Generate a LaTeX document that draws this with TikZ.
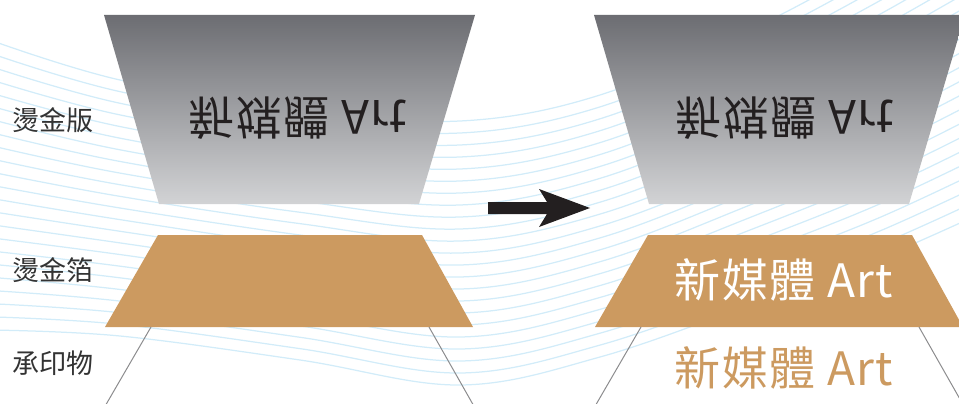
\documentclass[tikz,border=0pt]{standalone}
\usepackage{fontspec}
\usepackage{graphicx}
\newfontfamily\cjk{Noto Sans CJK TC}
\newfontfamily\cjkwide[LetterSpace=3]{Noto Sans CJK TC}
\definecolor{gold}{RGB}{204,154,96}
\definecolor{wave}{RGB}{210,236,249}
\definecolor{plateTop}{RGB}{108,109,114}
\definecolor{plateBot}{RGB}{210,211,213}
\definecolor{ink}{RGB}{35,31,32}
\definecolor{labelc}{RGB}{51,51,51}
\definecolor{subc}{RGB}{140,140,142}
\tikzset{
  wavel/.style={wave, line width=1.25pt},
  plate/.style={top color=plateTop, bottom color=plateBot},
  foil/.style={fill=gold},
  subline/.style={subc, line width=1pt},
  lab/.style={font=\cjk\fontsize{27}{27}\selectfont, text=labelc, anchor=west, inner sep=0pt},
  bigtext/.style={font=\cjkwide\fontsize{46}{46}\selectfont, anchor=base, inner sep=0pt},
  arrowshape/.style={fill=ink},
}
\begin{document}
\begin{tikzpicture}[x=1pt,y=-1pt]
\useasboundingbox (0,0) rectangle (959,404);
\begin{scope}
\clip (0,0) rectangle (959,404);
% background waves
\foreach \i in {0,...,22}{
  \pgfmathsetmacro\t{\i/22}
  \pgfmathsetmacro\ya{40+290*\t}
  \pgfmathsetmacro\yb{80+256*\t}
  \pgfmathsetmacro\yc{110+250*\t}
  \pgfmathsetmacro\yd{121+264*\t}
  \pgfmathsetmacro\ye{95+262*\t}
  \pgfmathsetmacro\yf{30+275*\t}
  \pgfmathsetmacro\yg{-40+298*\t}
  \pgfmathsetmacro\yh{-120+320*\t}
  \draw[wavel] plot[smooth,tension=0.6] coordinates {(-10,\ya) (120,\yb) (300,\yc) (460,\yd) (600,\ye) (750,\yf) (880,\yg) (1010,\yh)};
}
% left side
\coordinate (LP1) at (104,15);
\coordinate (LP2) at (475,15);
\coordinate (LP3) at (419,204);
\coordinate (LP4) at (159,204);
\coordinate (LF1) at (158,235);
\coordinate (LF2) at (422,235);
\coordinate (LF3) at (473,327);
\coordinate (LF4) at (105,327);
\coordinate (LS1) at (151,327);
\coordinate (LS2) at (104,408);
\coordinate (LS3) at (429,327);
\coordinate (LS4) at (475,408);
\shade[plate] (LP1) -- (LP2) -- (LP3) -- (LP4) -- cycle;
\fill[foil] (LF1) -- (LF2) -- (LF3) -- (LF4) -- cycle;
\draw[subline] (LS1) -- (LS2);
\draw[subline] (LS3) -- (LS4);
% right side
\coordinate (RP1) at (594,15);
\coordinate (RP2) at (965,15);
\coordinate (RP3) at (909,204);
\coordinate (RP4) at (649,204);
\coordinate (RF1) at (648,235);
\coordinate (RF2) at (912,235);
\coordinate (RF3) at (963,327);
\coordinate (RF4) at (595,327);
\coordinate (RS1) at (641,327);
\coordinate (RS2) at (594,408);
\coordinate (RS3) at (919,327);
\coordinate (RS4) at (965,408);
\shade[plate] (RP1) -- (RP2) -- (RP3) -- (RP4) -- cycle;
\fill[foil] (RF1) -- (RF2) -- (RF3) -- (RF4) -- cycle;
\draw[subline] (RS1) -- (RS2);
\draw[subline] (RS3) -- (RS4);
% arrow
\fill[arrowshape] (488,202) -- (547,202) -- (539,189) -- (590,208) -- (539,227) -- (547,214) -- (488,214) -- cycle;
\end{scope}
% labels
\node[lab] (l1) at (12,120) {燙金版};
\node[lab] (l2) at (12,270) {燙金箔};
\node[lab] (l3) at (12,363) {承印物};
% texts
\node[bigtext, text=ink] (tpL) at (298,100) {\scalebox{1}[-1]{新媒體 Art}};
\node[bigtext, text=ink] (tpR) at (785,100) {\scalebox{1}[-1]{新媒體 Art}};
\node[bigtext, text=white] (tf) at (784,297) {新媒體 Art};
\node[bigtext, text=gold] (ts) at (784,385) {新媒體 Art};
\end{tikzpicture}
\end{document}
